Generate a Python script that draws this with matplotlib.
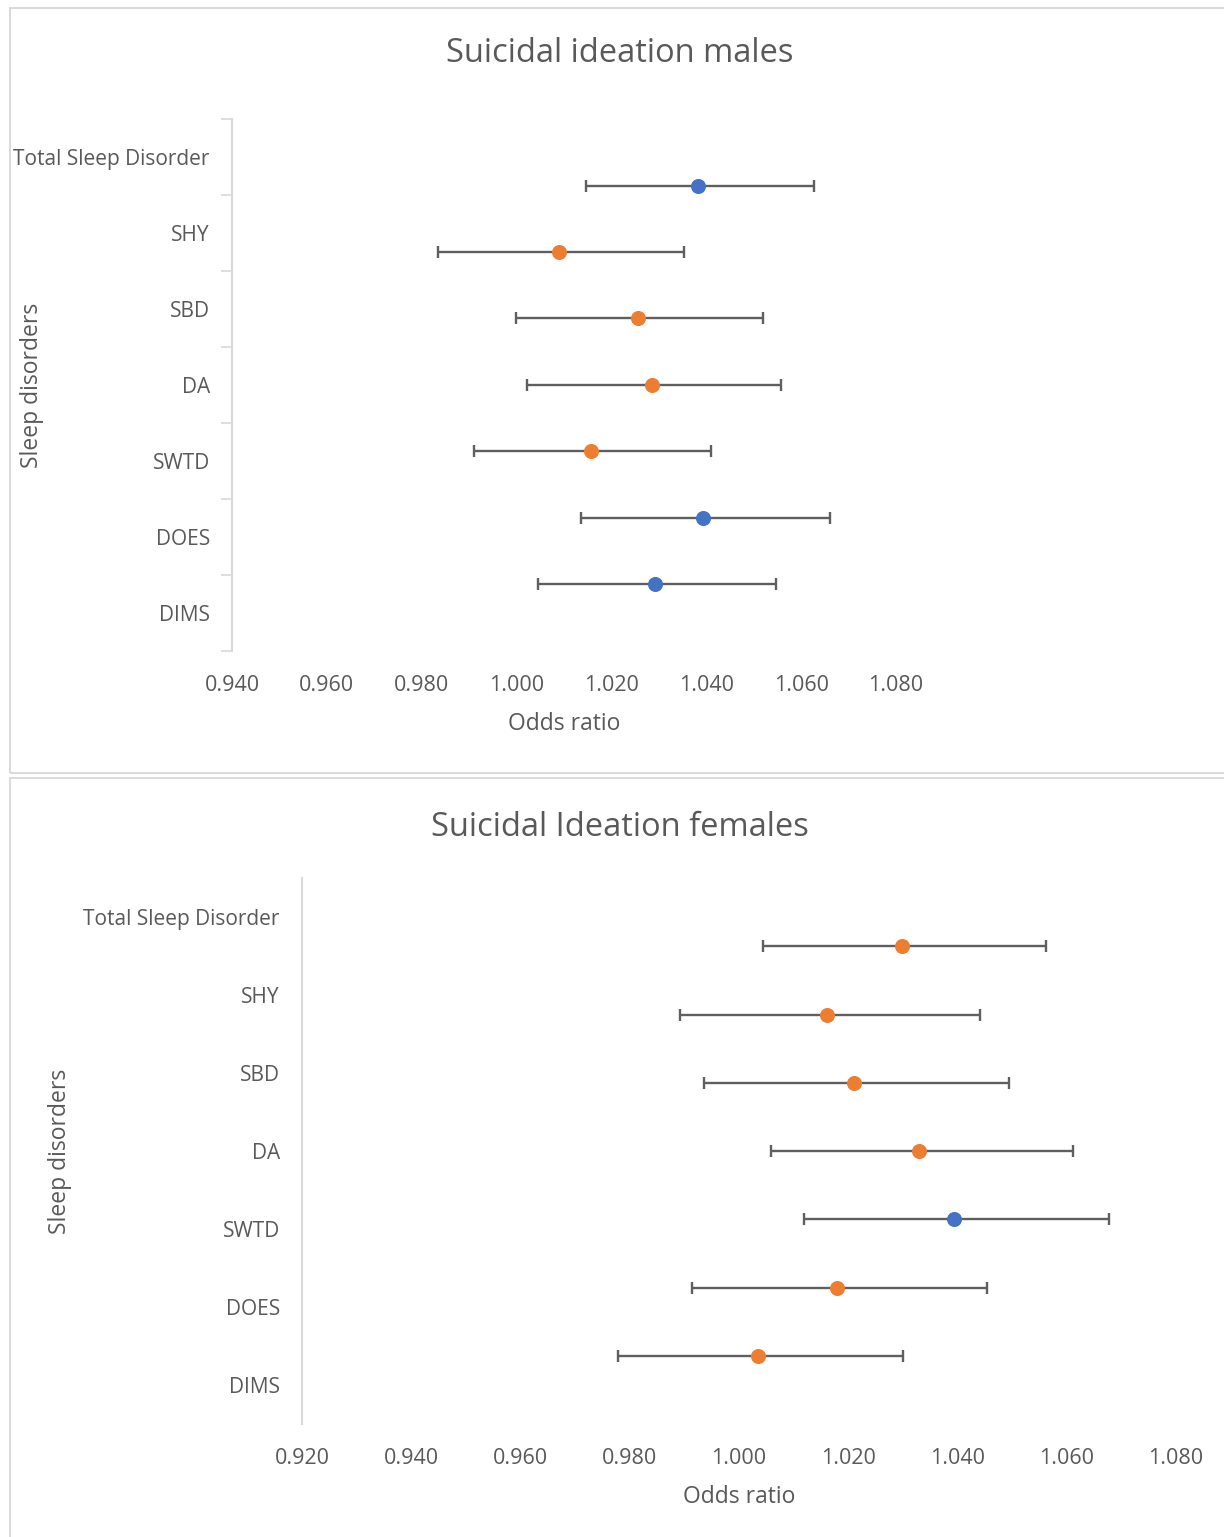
import matplotlib.pyplot as plt
from matplotlib.patches import Rectangle
from matplotlib.ticker import FixedLocator, NullFormatter

plt.rcParams['font.family'] = ['Open Sans', 'DejaVu Sans']

TEXT = '#595959'
AXIS = '#D9D9D9'
BLUE = '#4472C4'
ORANGE = '#ED7D31'
BAR = '#5F5F5F'

categories = ['Total Sleep Disorder', 'SHY', 'SBD', 'DA', 'SWTD', 'DOES', 'DIMS']

# males
m_or = [1.0383, 1.0089, 1.0256, 1.0286, 1.0157, 1.0393, 1.0292]
m_lo = [1.0146, 0.9834, 0.9999, 1.0022, 0.9910, 1.0136, 1.0045]
m_hi = [1.0627, 1.0353, 1.0520, 1.0558, 1.0410, 1.0661, 1.0547]
m_col = [BLUE, ORANGE, ORANGE, ORANGE, ORANGE, BLUE, BLUE]

# females
f_or = [1.0298, 1.0161, 1.0211, 1.0330, 1.0394, 1.0179, 1.0035]
f_lo = [1.0044, 0.9892, 0.9936, 1.0059, 1.0119, 0.9914, 0.9778]
f_hi = [1.0562, 1.0441, 1.0494, 1.0611, 1.0677, 1.0454, 1.0300]
f_col = [ORANGE, ORANGE, ORANGE, ORANGE, BLUE, ORANGE, ORANGE]

m_ticks = [0.94, 0.96, 0.98, 1.00, 1.02, 1.04, 1.06, 1.08]
f_ticks = [0.92, 0.94, 0.96, 0.98, 1.00, 1.02, 1.04, 1.06, 1.08]

W, H = 1224, 1537
fig = plt.figure(figsize=(W / 100, H / 100), dpi=100)


def px_box(x0, y0, x1, y1):
    return [x0 / W, 1 - y1 / H, (x1 - x0) / W, (y1 - y0) / H]


def panel(box, title, title_y, xticks, ors, los, his, cols, show_ticks, ylab_x, xlab_y):
    ax = fig.add_axes(px_box(*box))
    n = len(categories)
    # category axis (bar-chart style, labels between boundary ticks)
    ax.set_ylim(0, n)
    ax.set_xlim(xticks[0], xticks[-1])
    ax.yaxis.set_major_locator(FixedLocator(range(n + 1)))
    ax.yaxis.set_major_formatter(NullFormatter())
    ax.yaxis.set_minor_locator(FixedLocator([n - i - 0.5 for i in range(n)]))
    ax.set_yticklabels(categories, minor=True)
    ax.tick_params(axis='y', which='minor', length=0, pad=16,
                   labelsize=15, labelcolor=TEXT)
    ax.tick_params(axis='y', which='major', length=8 if show_ticks else 0,
                   color=AXIS, width=1.2)
    ax.set_xticks(xticks)
    ax.set_xticklabels([f'{t:.3f}' for t in xticks])
    ax.tick_params(axis='x', length=0, pad=17, labelsize=15.5, labelcolor=TEXT)
    for s in ['top', 'right', 'bottom']:
        ax.spines[s].set_visible(False)
    ax.spines['left'].set_color(AXIS)
    ax.spines['left'].set_linewidth(1.5)

    # scatter series on its own value axis (0..n+1)
    ax2 = ax.twinx()
    ax2.set_ylim(0, n + 1)
    ax2.set_xlim(xticks[0], xticks[-1])
    ax2.axis('off')
    ys = [n - i for i in range(n)]
    for y, o, lo, hi, c in zip(ys, ors, los, his, cols):
        ax2.errorbar(o, y, xerr=[[o - lo], [hi - o]], fmt='none', ecolor=BAR,
                     elinewidth=1.7, capsize=4.3, capthick=1.7, zorder=2)
        ax2.plot(o, y, 'o', color=c, markersize=9.8, zorder=3)

    fig.text((box[0] + box[2]) / 2 / W, 1 - xlab_y / H, 'Odds ratio',
             ha='center', va='center', fontsize=16.5, color=TEXT)
    fig.text(ylab_x / W, 1 - (box[1] + box[3]) / 2 / H, 'Sleep disorders',
             rotation=90, ha='center', va='center', fontsize=16.5, color=TEXT)
    fig.text(620 / W, 1 - title_y / H, title, ha='center', va='center',
             fontsize=23.5, color=TEXT)
    return ax


# chart frames
fig.add_artist(Rectangle((9.5 / W, 1 - 773 / H), 1.1, (773 - 8) / H,
                         transform=fig.transFigure, fill=False, ec=AXIS, lw=1.4))
fig.add_artist(Rectangle((9.5 / W, -0.05), 1.1, 0.05 + (1537 - 778) / H,
                         transform=fig.transFigure, fill=False, ec=AXIS, lw=1.4))

panel((232, 119, 896, 651), 'Suicidal ideation males', 54, m_ticks,
      m_or, m_lo, m_hi, m_col, True, 32, 724)
panel((302, 878, 1176, 1424), 'Suicidal Ideation females', 827, f_ticks,
      f_or, f_lo, f_hi, f_col, False, 60, 1497)

fig.savefig('out.png', dpi=100)
